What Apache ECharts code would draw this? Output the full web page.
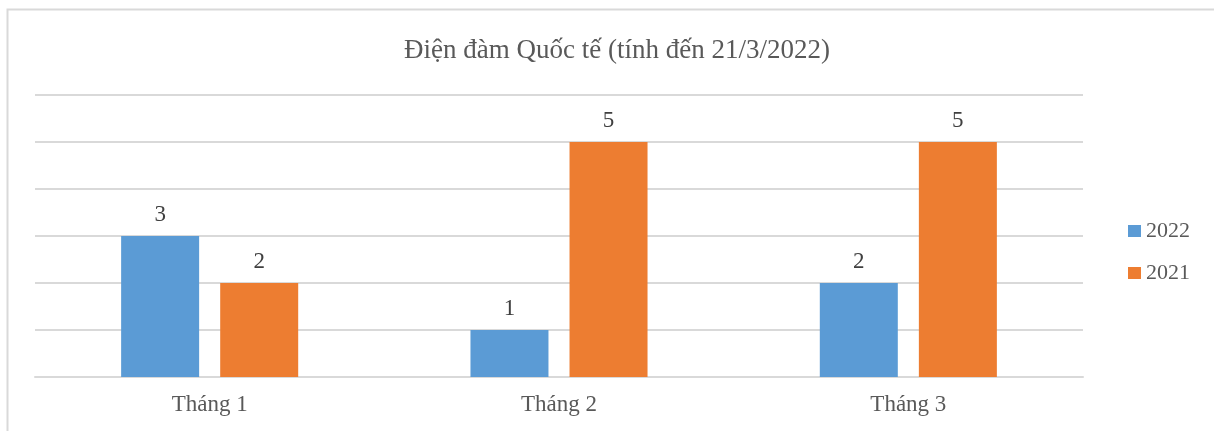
<!DOCTYPE html>
<html>
<head>
<meta charset="utf-8">
<script src="https://cdn.jsdelivr.net/npm/echarts@6/dist/echarts.min.js"></script>
<style>
html, body { margin: 0; padding: 0; background: #fff; }
#main { width: 1214px; height: 431px; }
</style>
</head>
<body>
<div id="main"></div>
<script>
var categories = ['Tháng 1', 'Tháng 2', 'Tháng 3'];
var values2022 = [3, 1, 2];
var values2021 = [2, 5, 5];

var serif = '"Liberation Serif", "DejaVu Serif", serif';

var myChart = echarts.init(document.getElementById('main'));

var option = {
    animation: false,
    title: {
        text: 'Điện đàm Quốc tế (tính đến 21/3/2022)',
        left: 612,
        textAlign: 'center',
        top: 32,
        textStyle: { fontFamily: serif, fontSize: 27, fontWeight: 'normal', color: '#595959' }
    },
    graphic: [{
        type: 'rect',
        shape: { x: 7.5, y: 9.5, width: 1400, height: 600 },
        style: { fill: 'none', stroke: '#d9d9d9', lineWidth: 2 },
        silent: true
    }],
    legend: {
        orient: 'vertical',
        left: 1123,
        top: 215,
        itemWidth: 13,
        itemHeight: 12,
        itemGap: 20,
        icon: 'rect',
        textStyle: { fontFamily: serif, fontSize: 22, color: '#595959', padding: [0, 0, 0, 0] },
        data: ['2022', '2021']
    },
    grid: { left: 35, right: 131, top: 95, bottom: 54 },
    xAxis: {
        type: 'category',
        data: categories,
        axisLine: { lineStyle: { color: '#d9d9d9', width: 2 } },
        axisTick: { show: false },
        axisLabel: { fontFamily: serif, fontSize: 23, color: '#595959', margin: 16 }
    },
    yAxis: {
        type: 'value',
        min: 0,
        max: 6,
        interval: 1,
        axisLabel: { show: false },
        axisLine: { show: false },
        axisTick: { show: false },
        splitLine: { lineStyle: { color: '#d9d9d9', width: 2 } }
    },
    series: [{
        name: '2022',
        type: 'bar',
        data: values2022,
        barWidth: 78,
        barGap: '27%',
        itemStyle: { color: '#5b9bd5' },
        label: { show: true, position: 'top', distance: 10, fontFamily: serif, fontSize: 23, color: '#404040' }
    }, {
        name: '2021',
        type: 'bar',
        data: values2021,
        barWidth: 78,
        itemStyle: { color: '#ed7d31' },
        label: { show: true, position: 'top', distance: 10, fontFamily: serif, fontSize: 23, color: '#404040' }
    }]
};

myChart.setOption(option);
</script>
</body>
</html>
